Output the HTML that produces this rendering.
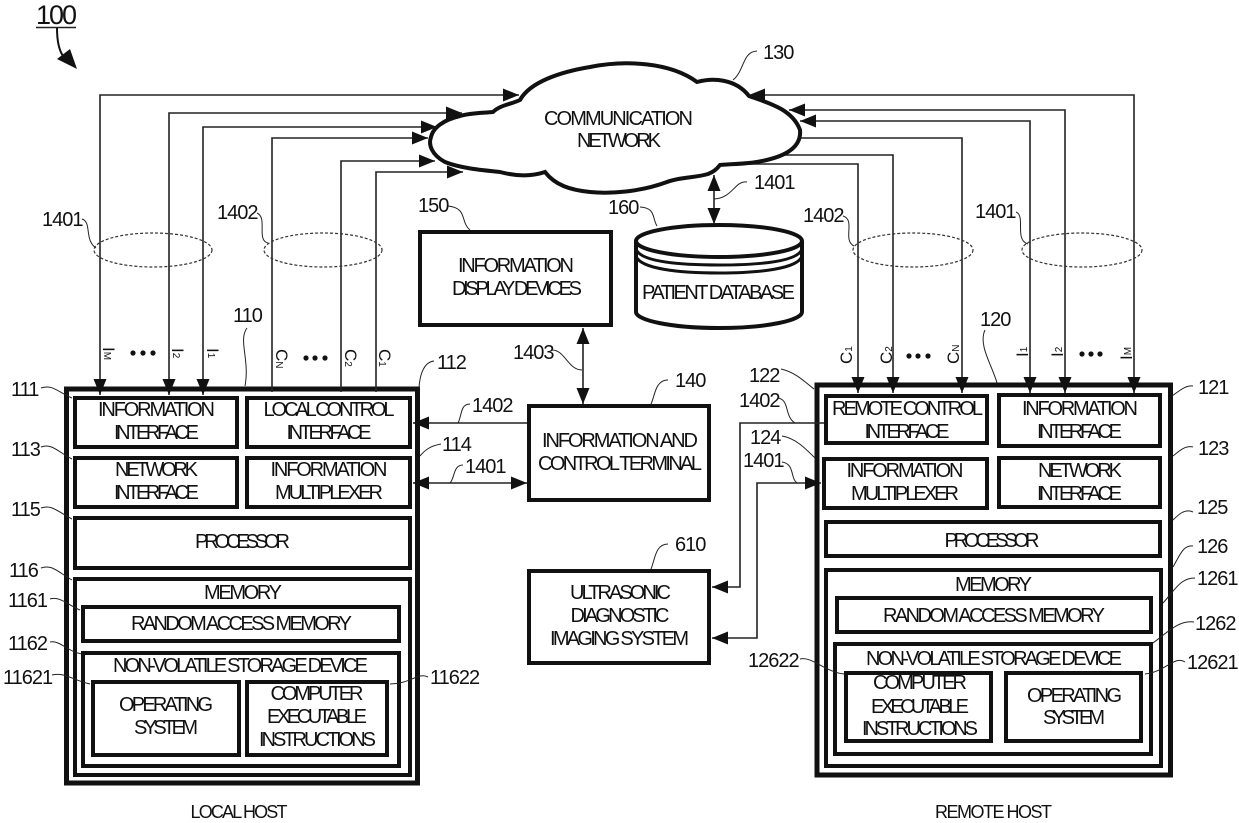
<!DOCTYPE html>
<html><head><meta charset="utf-8"><style>
html,body{margin:0;padding:0;background:#fff}
svg{display:block}
text{font-family:"Liberation Sans",sans-serif;fill:#111}
.t{font-size:20px;text-anchor:middle}
.n{font-size:20px;letter-spacing:-1px}
.b{fill:#fff;stroke:#111;stroke-width:4}
.o{fill:#fff;stroke:#111;stroke-width:5}
.l{fill:none;stroke:#222;stroke-width:1.6}
.w{fill:none;stroke:#222;stroke-width:1}
.e{fill:none;stroke:#333;stroke-width:1.2;stroke-dasharray:3 2}
.s{font-size:17px}
.u{font-size:10px}
</style></head><body>
<svg width="1239" height="823" viewBox="0 0 1239 823" xmlns="http://www.w3.org/2000/svg">
<defs>
<marker id="a" markerUnits="userSpaceOnUse" markerWidth="17" markerHeight="13" refX="16" refY="6.500" orient="auto-start-reverse"><path d="M0 0L16 6.500L0 13z" fill="#111"/></marker>
</defs>

<!-- title -->
<text x="36" y="24" style="font-size:27px;letter-spacing:-2px">100</text>
<path d="M36 27.500H76" stroke="#222" stroke-width="1.500"/>
<path d="M57 28C57 40 59 50 63 56" fill="none" stroke="#111" stroke-width="2"/>
<path d="M77 69L57 59L70 49z" fill="#111"/>

<!-- center-to-cloud connectors under cloud -->
<g class="l">
<path d="M800 138H962V387"/>
<path d="M780 155H893V387"/>
<path d="M720 164H858V387"/>
</g>

<!-- cloud -->
<path d="M493 112C500 105 512 104 520 100C530 82 560 72 590 67C625 60 670 62 697 82C712 78 735 78 749 96C765 102 792 108 800 130C802 150 780 158 757 162C745 164 730 164 720 165C716 170 713 172 708 174C695 178 680 177 667 182C640 192 610 194 590 192C570 190 555 185 545 172C530 177 515 176 500 172C480 170 460 168 445 162C432 155 428 145 431 137C433 128 443 120 460 116C470 113 482 113 493 112Z" fill="#fff" stroke="#111" stroke-width="4"/>
<text class="t" x="618.500" y="125" textLength="149">COMMUNICATION</text>
<text class="t" x="619" y="147" textLength="84">NETWORK</text>

<!-- database -->
<path d="M636 241V312C636 320 670 328 719 328C768 328 802 320 802 312V241" fill="#fff" stroke="#111" stroke-width="4"/>
<ellipse cx="719" cy="241" rx="83" ry="16" fill="#fff" stroke="#111" stroke-width="4"/>
<path d="M636 249C640 262 680 265 719 265C758 265 798 262 802 249M636 256C640 269 680 273 719 273C758 273 798 269 802 256" fill="none" stroke="#111" stroke-width="3"/>
<text class="t" x="718.500" y="299" textLength="153">PATIENT DATABASE</text>

<!-- mid boxes -->
<rect class="b" x="420" y="232" width="191" height="93"/>
<text class="t" x="516" y="272" textLength="116">INFORMATION</text>
<text class="t" x="517" y="295" textLength="130">DISPLAY DEVICES</text>
<rect class="b" x="529" y="406" width="180" height="94"/>
<text class="t" x="620" y="447" textLength="156">INFORMATION AND</text>
<text class="t" x="620" y="470" textLength="164">CONTROL TERMINAL</text>
<rect class="b" x="529" y="571" width="180" height="92"/>
<text class="t" x="620.500" y="599" textLength="101">ULTRASONIC</text>
<text class="t" x="620" y="622" textLength="99">DIAGNOSTIC</text>
<text class="t" x="619.500" y="645" textLength="139">IMAGING SYSTEM</text>

<!-- local host -->
<rect class="o" x="66.500" y="389" width="351" height="394"/>
<rect class="b" x="75" y="398" width="162" height="49"/>
<rect class="b" x="247" y="398" width="163" height="49"/>
<rect class="b" x="75" y="458" width="162" height="49"/>
<rect class="b" x="247" y="458" width="163" height="49"/>
<rect class="b" x="75" y="518" width="335" height="50"/>
<rect class="b" x="75" y="579" width="335" height="196"/>
<rect class="b" x="83" y="607" width="316" height="34"/>
<rect class="b" x="83" y="653" width="316" height="113"/>
<rect class="b" x="93" y="682" width="146" height="73"/>
<rect class="b" x="247" y="682" width="140" height="73"/>
<text class="t" x="156.500" y="416" textLength="117">INFORMATION</text><text class="t" x="156.500" y="439" textLength="85">INTERFACE</text>
<text class="t" x="329" y="416" textLength="131">LOCAL CONTROL</text><text class="t" x="329" y="439" textLength="85">INTERFACE</text>
<text class="t" x="156.500" y="476" textLength="83">NETWORK</text><text class="t" x="156.500" y="499" textLength="85">INTERFACE</text>
<text class="t" x="329" y="476" textLength="117">INFORMATION</text><text class="t" x="329" y="499" textLength="108">MULTIPLEXER</text>
<text class="t" x="242.500" y="548" textLength="95">PROCESSOR</text>
<text class="t" x="243" y="599" textLength="78">MEMORY</text>
<text class="t" x="241.500" y="630" textLength="221">RANDOM ACCESS MEMORY</text>
<text class="t" x="240.500" y="672" textLength="255">NON-VOLATILE STORAGE DEVICE</text>
<text class="t" x="166" y="711" textLength="94">OPERATING</text><text class="t" x="166" y="734" textLength="64">SYSTEM</text>
<text class="t" x="317" y="700" textLength="93">COMPUTER</text><text class="t" x="317" y="723" textLength="100">EXECUTABLE</text><text class="t" x="317.500" y="746" textLength="117">INSTRUCTIONS</text>
<text class="t" x="239" y="818" textLength="97" style="font-size:18px">LOCAL HOST</text>

<!-- remote host -->
<rect class="o" x="817" y="385" width="353.500" height="390"/>
<rect class="b" x="826" y="396" width="161" height="47"/>
<rect class="b" x="999" y="395" width="161" height="51"/>
<rect class="b" x="824" y="459" width="163" height="49"/>
<rect class="b" x="999" y="458" width="161" height="49"/>
<rect class="b" x="826" y="522" width="334" height="34"/>
<rect class="b" x="826" y="570" width="335" height="196"/>
<rect class="b" x="837" y="598" width="314" height="34"/>
<rect class="b" x="835" y="644" width="316" height="110"/>
<rect class="b" x="846" y="673" width="145" height="68"/>
<rect class="b" x="1006" y="673" width="135" height="68"/>
<text class="t" x="907.500" y="415" textLength="151">REMOTE CONTROL</text><text class="t" x="907" y="438" textLength="85">INTERFACE</text>
<text class="t" x="1080" y="415" textLength="116">INFORMATION</text><text class="t" x="1079.500" y="438" textLength="85">INTERFACE</text>
<text class="t" x="905" y="477" textLength="117">INFORMATION</text><text class="t" x="905" y="500" textLength="108">MULTIPLEXER</text>
<text class="t" x="1080" y="477" textLength="84">NETWORK</text><text class="t" x="1079.500" y="500" textLength="85">INTERFACE</text>
<text class="t" x="992" y="547" textLength="95">PROCESSOR</text>
<text class="t" x="993.500" y="591" textLength="77">MEMORY</text>
<text class="t" x="994" y="622" textLength="222">RANDOM ACCESS MEMORY</text>
<text class="t" x="994" y="665" textLength="256">NON-VOLATILE STORAGE DEVICE</text>
<text class="t" x="920" y="689" textLength="94">COMPUTER</text><text class="t" x="920" y="713" textLength="98">EXECUTABLE</text><text class="t" x="920" y="735" textLength="116">INSTRUCTIONS</text>
<text class="t" x="1074.500" y="702" textLength="95">OPERATING</text><text class="t" x="1074" y="724" textLength="62">SYSTEM</text>
<text class="t" x="993.500" y="818" textLength="117" style="font-size:18px">REMOTE HOST</text>

<!-- bus lines and connectors -->
<g class="l">
<path d="M519 95H100V395" marker-start="url(#a)" marker-end="url(#a)"/>
<path d="M462 113H169V395" marker-start="url(#a)" marker-end="url(#a)"/>
<path d="M437 127H203V395" marker-start="url(#a)" marker-end="url(#a)"/>
<path d="M428 138H272V392" marker-start="url(#a)"/>
<path d="M435 161H341V392" marker-start="url(#a)"/>
<path d="M463 172H376V392" marker-start="url(#a)"/>
<path d="M749 95H1134V393" marker-start="url(#a)" marker-end="url(#a)"/>
<path d="M789 110H1065V393" marker-start="url(#a)" marker-end="url(#a)"/>
<path d="M800 121H1030V393" marker-start="url(#a)" marker-end="url(#a)"/>
<path d="M962 380V393" marker-end="url(#a)"/>
<path d="M893 380V393" marker-end="url(#a)"/>
<path d="M858 380V393" marker-end="url(#a)"/>
<path d="M714 175V224" marker-start="url(#a)" marker-end="url(#a)"/>
<path d="M583 328V404" marker-start="url(#a)" marker-end="url(#a)"/>
<path d="M527 423H413" marker-end="url(#a)"/>
<path d="M413 483H527" marker-start="url(#a)" marker-end="url(#a)"/>
<path d="M824 423H740V587H712" marker-end="url(#a)"/>
<path d="M821 483H757V638H712" marker-start="url(#a)" marker-end="url(#a)"/>
</g>

<!-- group ellipses -->
<ellipse class="e" cx="153" cy="250" rx="59" ry="17"/>
<ellipse class="e" cx="323" cy="250" rx="59" ry="17"/>
<ellipse class="e" cx="913" cy="250" rx="60" ry="17"/>
<ellipse class="e" cx="1082" cy="250" rx="60" ry="17"/>

<!-- signal labels -->
<text class="s" transform="translate(103 347) rotate(90)">I<tspan class="u" dy="-1">M</tspan></text>
<text class="s" transform="translate(172 348) rotate(90)">I<tspan class="u" dy="-1">2</tspan></text>
<text class="s" transform="translate(207 348) rotate(90)">I<tspan class="u" dy="-1">1</tspan></text>
<text class="s" transform="translate(276 349) rotate(90)">C<tspan class="u">N</tspan></text>
<text class="s" transform="translate(345 349) rotate(90)">C<tspan class="u">2</tspan></text>
<text class="s" transform="translate(379 349) rotate(90)">C<tspan class="u">1</tspan></text>
<text class="s" transform="translate(852 364) rotate(-90)">C<tspan class="u">1</tspan></text>
<text class="s" transform="translate(892 364) rotate(-90)">C<tspan class="u">2</tspan></text>
<text class="s" transform="translate(959 364) rotate(-90)">C<tspan class="u">N</tspan></text>
<text class="s" transform="translate(1028 357) rotate(-90)">I<tspan class="u" dy="-1">1</tspan></text>
<text class="s" transform="translate(1063 357) rotate(-90)">I<tspan class="u" dy="-1">2</tspan></text>
<text class="s" transform="translate(1132 360) rotate(-90)">I<tspan class="u" dy="-1">M</tspan></text>
<g fill="#111">
<circle cx="133" cy="353" r="2.600"/><circle cx="143" cy="353" r="2.600"/><circle cx="153" cy="353" r="2.600"/>
<circle cx="306" cy="358" r="2.600"/><circle cx="315" cy="358" r="2.600"/><circle cx="325" cy="358" r="2.600"/>
<circle cx="909" cy="356" r="2.600"/><circle cx="918" cy="356" r="2.600"/><circle cx="928" cy="356" r="2.600"/>
<circle cx="1082" cy="354" r="2.600"/><circle cx="1091" cy="354" r="2.600"/><circle cx="1100" cy="354" r="2.600"/>
</g>

<!-- numeric labels -->
<g>
<text class="n" x="763" y="59">130</text>
<text class="n" x="754" y="189">1401</text>
<text class="n" x="42" y="226">1401</text>
<text class="n" x="217" y="219">1402</text>
<text class="n" x="803" y="222">1402</text>
<text class="n" x="975" y="218">1401</text>
<text class="n" x="418" y="212">150</text>
<text class="n" x="608" y="214">160</text>
<text class="n" x="233" y="322">110</text>
<text class="n" x="980" y="326">120</text>
<text class="n" x="11" y="396">111</text>
<text class="n" x="437" y="369">112</text>
<text class="n" x="513" y="359">1403</text>
<text class="n" x="675" y="387">140</text>
<text class="n" x="472" y="412">1402</text>
<text class="n" x="465" y="473">1401</text>
<text class="n" x="442" y="451">114</text>
<text class="n" x="11" y="456">113</text>
<text class="n" x="11" y="516">115</text>
<text class="n" x="9" y="577">116</text>
<text class="n" x="8" y="607">1161</text>
<text class="n" x="8" y="650">1162</text>
<text class="n" x="3" y="684">11621</text>
<text class="n" x="430" y="684">11622</text>
<text class="n" x="749" y="382">122</text>
<text class="n" x="739" y="407">1402</text>
<text class="n" x="750" y="444">124</text>
<text class="n" x="743" y="467">1401</text>
<text class="n" x="675" y="551">610</text>
<text class="n" x="748" y="667">12622</text>
<text class="n" x="1198" y="394">121</text>
<text class="n" x="1198" y="455">123</text>
<text class="n" x="1197" y="514">125</text>
<text class="n" x="1197" y="553">126</text>
<text class="n" x="1197" y="585">1261</text>
<text class="n" x="1195" y="630">1262</text>
<text class="n" x="1187" y="669">12621</text>
</g>

<!-- leader curves -->
<g class="w">
<path d="M757 51C742 52 745 70 733 80"/>
<path d="M747 182C735 180 733 198 714 199"/>
<path d="M82 219C92 222 84 240 96 248"/>
<path d="M257 213C268 218 256 240 268 243"/>
<path d="M843 216C856 220 842 240 854 246"/>
<path d="M1016 212C1026 216 1014 240 1028 244"/>
<path d="M448 206C468 208 460 222 470 230"/>
<path d="M640 207C656 208 652 218 657 226"/>
<path d="M247 328C238 340 250 360 245 386"/>
<path d="M985 330C978 345 992 365 997 383"/>
<path d="M41 388C52 384 58 392 72 398"/>
<path d="M434 361C425 362 420 372 419 388"/>
<path d="M552 350C565 350 568 370 582 370"/>
<path d="M668 380C655 380 655 396 651 404"/>
<path d="M470 404C460 404 462 416 458 423"/>
<path d="M463 465C453 465 455 478 450 483"/>
<path d="M441 444C430 446 425 450 420 456"/>
<path d="M41 447C52 443 58 452 72 459"/>
<path d="M41 508C52 504 58 512 72 519"/>
<path d="M41 568C52 564 58 572 72 580"/>
<path d="M50 599C60 596 68 605 80 610"/>
<path d="M50 642C60 640 68 652 82 654"/>
<path d="M52 675C65 672 72 680 90 684"/>
<path d="M428 677C418 672 410 684 390 684"/>
<path d="M668 544C655 544 655 560 651 569"/>
<path d="M781 369C795 372 805 382 814 389"/>
<path d="M778 398C790 400 784 416 795 423"/>
<path d="M782 436C795 438 805 448 815 458"/>
<path d="M782 462C795 464 790 478 797 483"/>
<path d="M800 659C812 656 825 672 844 674"/>
<path d="M1193 386C1185 385 1178 392 1172 396"/>
<path d="M1193 447C1185 445 1178 452 1173 456"/>
<path d="M1193 512C1185 508 1178 515 1173 520"/>
<path d="M1193 546C1183 545 1180 555 1173 567"/>
<path d="M1195 578C1180 578 1175 590 1163 603"/>
<path d="M1194 622C1180 620 1170 630 1153 643"/>
<path d="M1185 662C1175 655 1165 672 1145 674"/>
</g>
</svg>
</body></html>
